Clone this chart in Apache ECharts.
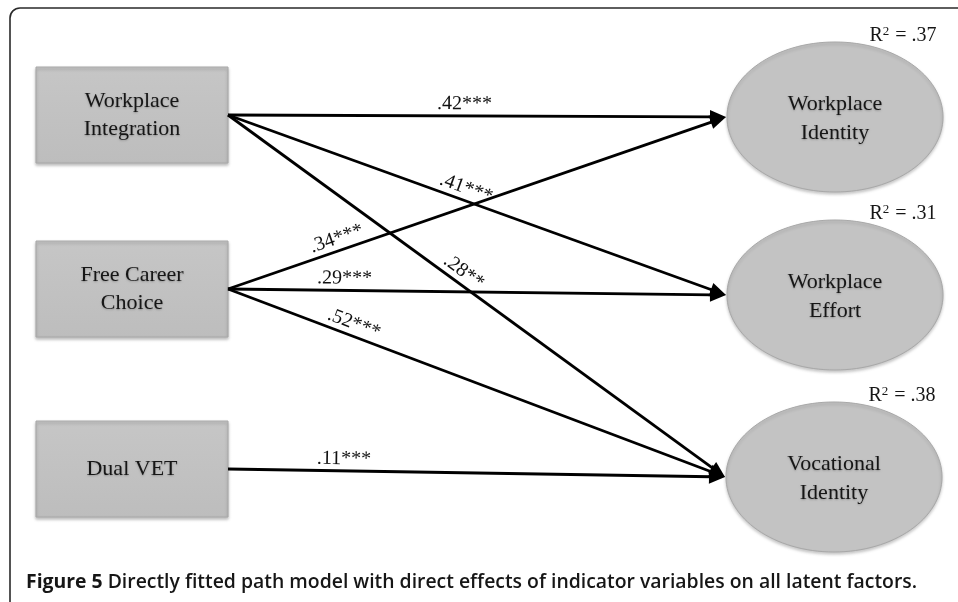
<!DOCTYPE html>
<html><head><meta charset="utf-8">
<script src="https://cdn.jsdelivr.net/npm/echarts@6/dist/echarts.min.js"></script>
<style>html,body{margin:0;padding:0;background:#fff}#c{width:958px;height:602px}</style>
</head><body><div id="c"></div>
<script>
// ---- data ----
const indicators = ['Workplace\nIntegration', 'Free Career\nChoice', 'Dual VET'];
const factors = ['Workplace\nIdentity', 'Workplace\nEffort', 'Vocational\nIdentity'];
const rSquared = ['.37', '.31', '.38'];
const pathFrom = [0, 0, 0, 1, 1, 1, 2];
const pathTo = [0, 1, 2, 0, 1, 2, 2];
const pathCoef = ['.42***', '.41***', '.28**', '.34***', '.29***', '.52***', '.11***'];
const captionBold = 'Figure 5';
const captionText = 'Directly fitted path model with direct effects of indicator variables on all latent factors.';

// ---- layout (diagram placement, in axis units) ----
const layout = {
  boxX: 132, boxW: 192, boxH: 96, boxY: [115, 289, 469],
  ellX: [835, 835, 834], ellY: [117, 295, 477], rx: 108, ry: 75,
  labelT: [0.475, 0.47, 0.46, 0.226, 0.234, 0.245, 0.233],
  labelOff: 12
};

const serif = '"Liberation Serif", "DejaVu Serif", serif';
const chart = echarts.init(document.getElementById('c'), null, {renderer: 'canvas'});

function renderBox(params, api) {
  const i = api.value(0);
  const c = api.coord([layout.boxX, layout.boxY[i]]);
  const w = layout.boxW, h = layout.boxH;
  return {
    type: 'group',
    children: [{
      type: 'rect',
      shape: {x: c[0] - w / 2, y: c[1] - h / 2, width: w, height: h},
      style: {
        fill: new echarts.graphic.LinearGradient(0, 0, 0, 1, [{offset: 0, color: '#c6c6c6'}, {offset: 1, color: '#bdbdbd'}]),
        stroke: '#a8a8a8', lineWidth: 1,
        shadowBlur: 3, shadowColor: 'rgba(0,0,0,0.25)', shadowOffsetY: 2
      }
    }, {
      type: 'text',
      x: c[0], y: c[1],
      style: {
        text: indicators[i], align: 'center', verticalAlign: 'middle',
        font: '22px ' + serif, fill: '#161616', lineHeight: 28,
        textShadowBlur: 2, textShadowColor: 'rgba(0,0,0,0.25)', textShadowOffsetY: 1
      }
    }]
  };
}

function renderEllipse(params, api) {
  const i = api.value(0);
  const c = api.coord([layout.ellX[i], layout.ellY[i]]);
  return {
    type: 'group',
    children: [{
      type: 'ellipse',
      shape: {cx: c[0], cy: c[1], rx: layout.rx, ry: layout.ry},
      style: {fill: '#c3c3c3', stroke: '#a8a8a8', lineWidth: 1,
        shadowBlur: 3, shadowColor: 'rgba(0,0,0,0.2)', shadowOffsetY: 2}
    }, {
      type: 'text',
      x: c[0], y: c[1] + 2,
      style: {
        text: factors[i], align: 'center', verticalAlign: 'middle',
        font: '22px ' + serif, fill: '#161616', lineHeight: 29,
        textShadowBlur: 2, textShadowColor: 'rgba(0,0,0,0.25)', textShadowOffsetY: 1
      }
    }, {
      type: 'text',
      x: c[0] + 68, y: c[1] - layout.ry - 6,
      style: {
        rich: {n: {font: '20px ' + serif, fill: '#161616'}, s: {font: '13px ' + serif, fill: '#161616', verticalAlign: 'top', padding: [0, 1, 9, 0]}},
        text: '{n|R}{s|2}{n| = ' + rSquared[i] + '}',
        align: 'center', verticalAlign: 'middle', fill: '#161616'
      }
    }]
  };
}

function renderPath(params, api) {
  const k = api.value(0);
  const s = api.coord([layout.boxX + layout.boxW / 2, layout.boxY[pathFrom[k]]]);
  const j = pathTo[k];
  const e = api.coord([layout.ellX[j] - layout.rx - 1, layout.ellY[j]]);
  const dx = e[0] - s[0], dy = e[1] - s[1];
  const L = Math.sqrt(dx * dx + dy * dy);
  const ux = dx / L, uy = dy / L;
  const al = 16, aw = 7;
  const bx = e[0] - ux * al, by = e[1] - uy * al;
  const t = layout.labelT[k];
  const px = s[0] + dx * t, py = s[1] + dy * t;
  const nx = uy, ny = -ux;
  const ang = Math.atan2(dy, dx);
  return {
    type: 'group',
    children: [{
      type: 'line',
      shape: {x1: s[0], y1: s[1], x2: bx + ux * 2, y2: by + uy * 2},
      style: {stroke: '#000', lineWidth: 2.8}
    }, {
      type: 'polygon',
      shape: {points: [[e[0], e[1]], [bx + nx * aw, by + ny * aw], [bx - nx * aw, by - ny * aw]]},
      style: {fill: '#000'}
    }, {
      type: 'text',
      x: px + nx * layout.labelOff, y: py + ny * layout.labelOff,
      rotation: -ang,
      style: {text: pathCoef[k], align: 'center', verticalAlign: 'middle', font: '20px ' + serif, fill: '#111'}
    }]
  };
}

chart.setOption({
  backgroundColor: '#fff',
  animation: false,
  grid: {left: 0, right: 0, top: 0, bottom: 0},
  xAxis: {type: 'value', min: 0, max: 958, show: false},
  yAxis: {type: 'value', min: 0, max: 602, inverse: true, show: false},
  title: {
    left: 21, top: 568,
    text: '{b|' + captionBold + '} {r|' + captionText + '}',
    textStyle: {
      rich: {
        b: {fontFamily: '"Open Sans", sans-serif', fontWeight: 700, fontSize: 19.4, color: '#161616'},
        r: {fontFamily: '"Open Sans", sans-serif', fontWeight: 600, fontSize: 19.4, color: '#161616'}
      }
    }
  },
  graphic: [{
    type: 'rect', silent: true,
    shape: {x: 10, y: 8, width: 975, height: 610, r: 10},
    style: {fill: 'none', stroke: '#2a2a2a', lineWidth: 1.6}
  }],
  series: [
    {type: 'custom', renderItem: renderPath, data: pathCoef.map((c, k) => [k]), z: 3},
    {type: 'custom', renderItem: renderBox, data: indicators.map((n, i) => [i]), z: 2},
    {type: 'custom', renderItem: renderEllipse, data: factors.map((n, i) => [i]), z: 2}
  ]
});
</script></body></html>
